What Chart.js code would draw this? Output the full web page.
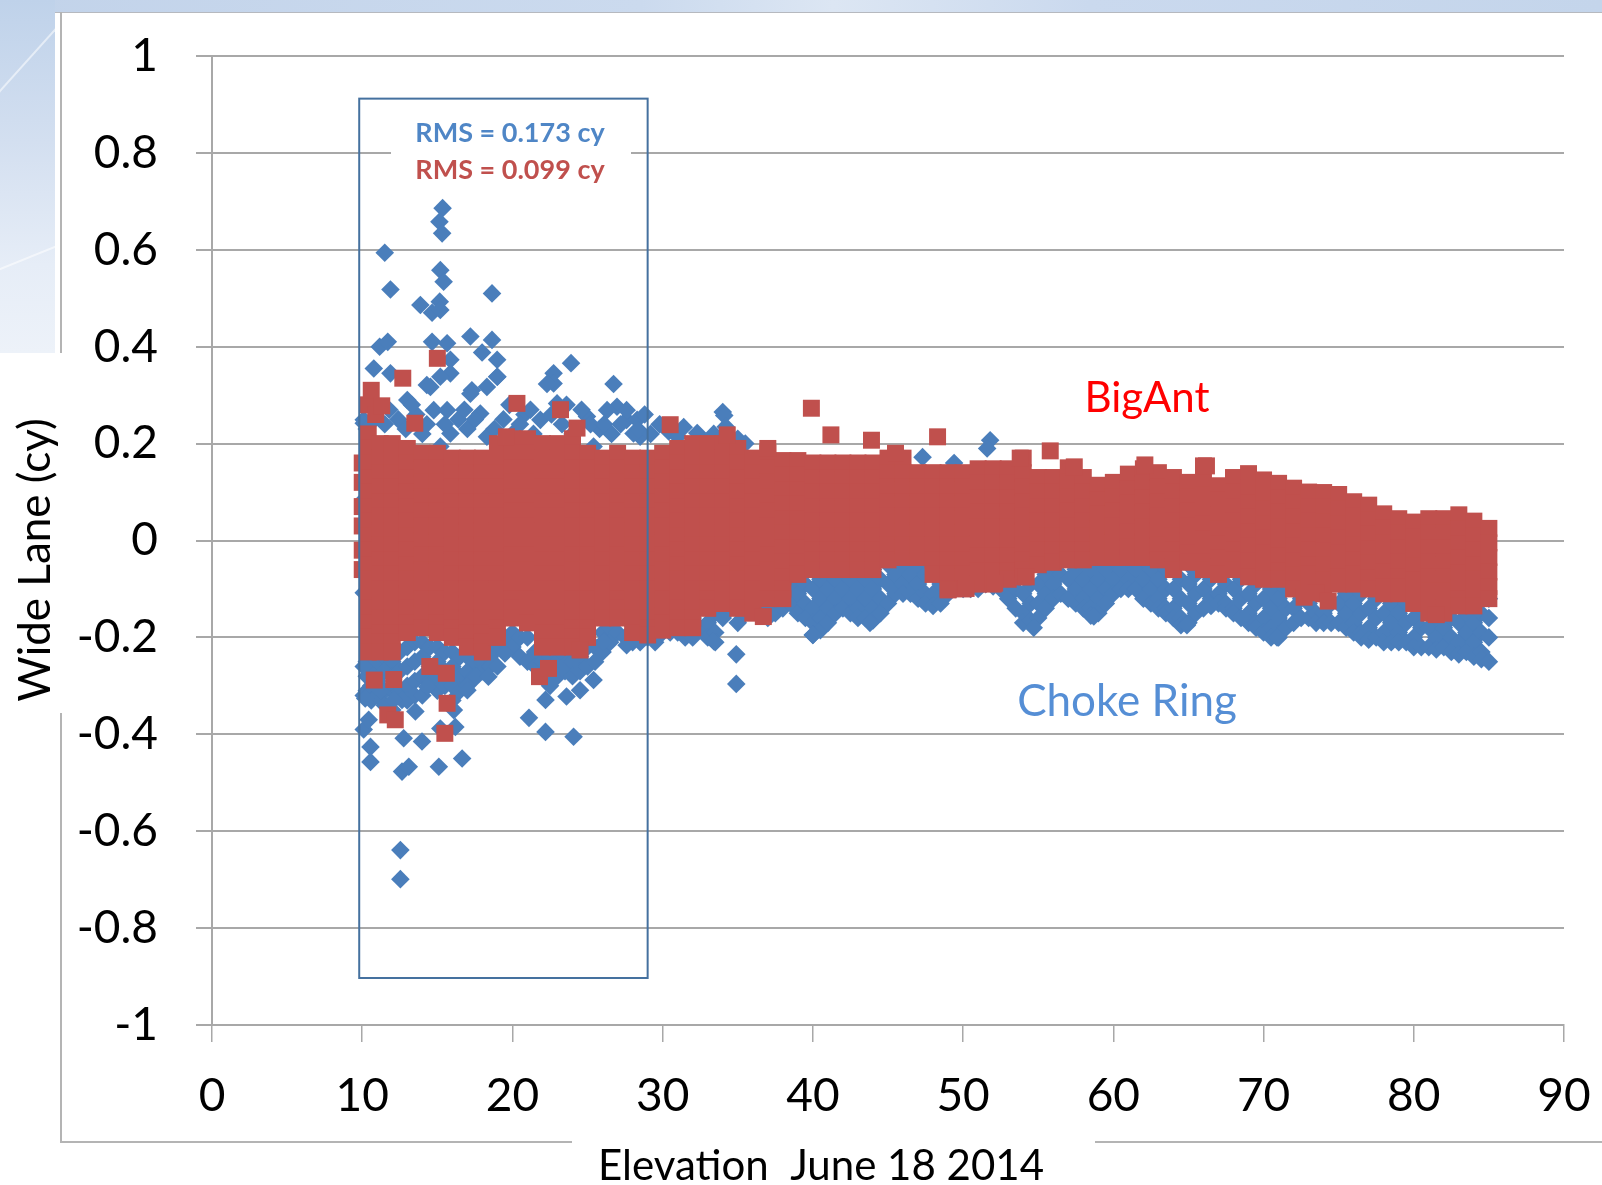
<!DOCTYPE html>
<html>
<head>
<meta charset="utf-8">
<title>Wide Lane vs Elevation</title>
<script src="https://cdn.jsdelivr.net/npm/chart.js"></script>
<style>
  html, body { margin: 0; padding: 0; background: #fff; }
  body { width: 1602px; height: 1185px; position: relative; overflow: hidden; }
  #topStrip { position: absolute; left: 0; top: 0; width: 1602px; height: 12px;
    background: linear-gradient(90deg, #c2d3ea 0%, #cbdaee 40%, #dce6f3 52%, #cad9ee 68%, #c4d5eb 100%);
    border-bottom: 1px solid #b6b9bf; }
  #corner { position: absolute; left: 0; top: 0; width: 55px; height: 353px; overflow: hidden;
    background: linear-gradient(180deg, #bfd2ea 0%, #d3dff0 40%, #e6edf7 75%, #edf2f9 100%); }
  .streak { position: absolute; height: 2px; background: rgba(255,255,255,0.55); transform-origin: 0 0; }
  .frame { position: absolute; background: #b4b4b4; }
  #chart { position: absolute; left: 0; top: 0; }
</style>
</head>
<body>
<div id="topStrip"></div>
<div id="corner">
  <div class="streak" style="left:-5px; top:95px; width:90px; transform: rotate(-48deg);"></div>
  <div class="streak" style="left:-5px; top:270px; width:90px; transform: rotate(-22deg);"></div>
</div>
<div class="frame" style="left:60px; top:12px; width:2px; height:341px;"></div>
<div class="frame" style="left:60px; top:713px; width:2px; height:430px;"></div>
<div class="frame" style="left:60px; top:1141px; width:512px; height:2px;"></div>
<div class="frame" style="left:1095px; top:1141px; width:507px; height:2px;"></div>
<canvas id="chart" width="1602" height="1185"></canvas>

<script>
// axis ticks
const xTicks = [0, 10, 20, 30, 40, 50, 60, 70, 80, 90];
const yTicks = [-1, -0.8, -0.6, -0.4, -0.2, 0, 0.2, 0.4, 0.6, 0.8, 1];

// RMS outline box (elevation deg, wide lane cy)
const rmsBoxX = [9.8, 29];
const rmsBoxY = [0.912, -0.903];

// values, y in hundredths of a cycle
// columns: [elevation, y, y, ...]
const bigAntColumns = [
  [10, 16, 12, 7, 3, -2, -6],
  [10.4, 22, 19, 16, 13, 10, 7, 4, 1, -2, -5, -8, -11, -14, -17, -20, -23],
  [11.2, 20, 17, 14, 11, 8, 5, 2, -1, -4, -7, -10, -13, -16, -19, -21, -23],
  [12, 20, 17, 14, 11, 8, 5, 2, -1, -4, -7, -10, -13, -16, -19, -21, -23],
  [13, 19, 16, 13, 10, 7, 4, 1, -2, -5, -8, -11, -14, -17, -19],
  [14, 18, 15, 12, 9, 6, 3, 0, -3, -6, -9, -12, -15, -18],
  [15, 18, 15, 12, 9, 6, 3, 0, -3, -6, -9, -12, -15, -17, -19],
  [16, 17, 14, 11, 8, 5, 2, -1, -4, -7, -10, -13, -16, -18, -20],
  [17, 17, 14, 11, 8, 5, 2, -1, -4, -7, -10, -13, -16, -19, -22],
  [18, 17, 14, 11, 8, 5, 2, -1, -4, -7, -10, -13, -16, -19, -21, -23],
  [19, 20, 17, 14, 11, 8, 5, 2, -1, -4, -7, -10, -13, -16, -18, -20],
  [20, 21, 18, 15, 12, 9, 6, 3, 0, -3, -6, -9, -12, -14, -16],
  [21, 21, 18, 15, 12, 9, 6, 3, 0, -3, -6, -9, -12, -15, -17],
  [22, 20, 17, 14, 11, 8, 5, 2, -1, -4, -7, -10, -13, -16, -19, -22],
  [23, 20, 17, 14, 11, 8, 5, 2, -1, -4, -7, -10, -13, -16, -19, -22],
  [24, 21, 18, 15, 12, 9, 6, 3, 0, -3, -6, -9, -12, -15, -18, -20, -22],
  [25, 18, 15, 12, 9, 6, 3, 0, -3, -6, -9, -12, -15, -18, -20],
  [26, 17, 14, 11, 8, 5, 2, -1, -4, -7, -10, -13, -16],
  [27, 18, 15, 12, 9, 6, 3, 0, -3, -6, -9, -12, -14, -16],
  [28, 17, 14, 11, 8, 5, 2, -1, -4, -7, -10, -13, -16, -19],
  [29, 17, 14, 11, 8, 5, 2, -1, -4, -7, -10, -13, -16, -18, -19.5],
  [30, 18, 15, 12, 9, 6, 3, 0, -3, -6, -9, -12, -15, -17, -18.5],
  [31, 19, 16, 13, 10, 7, 4, 1, -2, -5, -8, -11, -14, -16, -18],
  [32, 20, 17, 14, 11, 8, 5, 2, -1, -4, -7, -10, -13, -16, -18],
  [33, 20, 17, 14, 11, 8, 5, 2, -1, -4, -7, -10, -12, -14],
  [34, 20, 17, 14, 11, 8, 5, 2, -1, -4, -7, -10, -13],
  [35, 19, 16, 13, 10, 7, 4, 1, -2, -5, -8, -11, -14],
  [36, 17, 14, 11, 8, 5, 2, -1, -4, -7, -10, -13, -15],
  [37, 18, 15, 12, 9, 6, 3, 0, -3, -6, -9, -12],
  [38, 16.5, 13.5, 10.5, 7.5, 4.5, 1.5, -1.5, -4.5, -7.5, -10, -12],
  [39, 16.5, 13.5, 10.5, 7.5, 4.5, 1.5, -1.5, -4.5, -7],
  [40, 16, 13, 10, 7, 4, 1, -2, -4, -6],
  [41, 16, 13, 10, 7, 4, 1, -2, -4, -6],
  [42, 16, 13, 10, 7, 4, 1, -2, -4, -6],
  [43, 16, 13, 10, 7, 4, 1, -2, -4, -6],
  [44, 16, 13, 10, 7, 4, 1, -2, -4, -6],
  [45, 17, 14, 11, 8, 5, 2, -1, -4],
  [46, 17, 14, 11, 8, 5, 2, -1, -3.5],
  [47, 14, 11, 8, 5, 2, -1, -3.5],
  [48, 14, 11, 8, 5, 2, -1, -4, -7],
  [49, 14, 11, 8, 5, 2, -1, -4, -7, -10],
  [50, 14, 11, 8, 5, 2, -1, -4, -7, -10],
  [51, 14.8, 11.8, 8.8, 5.8, 2.8, -0.2, -3.2, -6.2, -9],
  [52, 14.8, 11.8, 8.8, 5.8, 2.8, -0.2, -3.2, -6.2, -9],
  [53, 14.8, 11.8, 8.8, 5.8, 2.8, -0.2, -3.2, -6.2, -8],
  [54, 17, 14, 11, 8, 5, 2, -1, -4, -6, -7.5],
  [55, 13, 10, 7, 4, 1, -2, -5],
  [56, 13, 10, 7, 4, 1, -2, -4.5],
  [57, 15, 12, 9, 6, 3, 0, -2, -4],
  [58, 13, 10, 7, 4, 1, -2, -4],
  [59, 11.4, 8.4, 5.4, 2.4, -0.6, -3.5],
  [60, 12, 9, 6, 3, 0, -3.5],
  [61, 13.7, 10.7, 7.7, 4.7, 1.7, -1.3, -3.5],
  [62, 14.8, 11.8, 8.8, 5.8, 2.8, -0.2, -3.5],
  [63, 14, 11, 8, 5, 2, -1, -4],
  [64, 13, 10, 7, 4, 1, -2, -4, -6],
  [65, 12, 9, 6, 3, 0, -2.5, -4.5],
  [66, 15.4, 12.4, 9.4, 6.4, 3.4, 0.4, -2.6, -4.5, -6],
  [67, 11.3, 8.3, 5.3, 2.3, -0.7, -3.7, -5.5, -7],
  [68, 13, 10, 7, 4, 1, -2, -4, -6],
  [69, 13.8, 10.8, 7.8, 4.8, 1.8, -1.2, -4.2, -7.5],
  [70, 12.5, 9.5, 6.5, 3.5, 0.5, -2.5, -5.5, -8],
  [71, 11.8, 8.8, 5.8, 2.8, -0.2, -3.2, -6.2, -8],
  [72, 10.8, 7.8, 4.8, 1.8, -1.2, -4.2, -7.2, -10],
  [73, 10, 7, 4, 1, -2, -5, -7, -9],
  [74, 9.9, 6.9, 3.9, 0.9, -2.1, -5.1, -8.1, -11],
  [75, 9.5, 6.5, 3.5, 0.5, -2.5, -5.5, -7.5, -9],
  [76, 8, 5, 2, -1, -4, -7, -9],
  [77, 7.3, 4.3, 1.3, -1.7, -4.7, -7.7, -10],
  [78, 5.5, 2.5, -0.5, -3.5, -6.5, -9.5, -11],
  [79, 4.5, 1.5, -1.5, -4.5, -7.5, -9.5, -11],
  [80, 3.8, 0.8, -2.2, -5.2, -8.2, -11, -13],
  [81, 4.5, 1.5, -1.5, -4.5, -7.5, -10.5, -13, -15],
  [82, 4.5, 1.5, -1.5, -4.5, -7.5, -10.5, -13, -15],
  [83, 5.3, 2.3, -0.7, -3.7, -6.7, -9.7, -12, -13.5],
  [84, 4, 1, -2, -5, -8, -11, -13.5],
  [85, 2.5, -0.5, -3.5, -6.5, -9.5, -12]
];

// single squares away from the band: [elevation, y]
const bigAntOutliers = [
  [10.4, 28], [10.6, 31], [10.9, 26], [11.3, 27.8], [12.7, 33.5], [13.5, 24.2], [15, 37.6],
  [19.6, 21.4], [20.3, 28.3], [23.2, 27], [24.3, 23.2], [30.5, 23.9], [34.3, 21.8],
  [37, 19], [39.9, 27.3], [41.2, 21.8], [43.9, 20.7], [45.5, 18], [48.3, 21.4],
  [53.8, 17], [55.8, 18.5], [57.4, 15.2], [62.1, 15.6], [66.2, 15.4],
  [10.8, -28.8], [12.1, -28.7], [11.7, -36], [12.2, -37], [14.5, -26], [15.6, -27.4],
  [15.65, -33.6], [15.5, -39.8], [21.8, -28.1], [22.4, -26.4], [24.5, -22.6],
  [36.7, -15.7], [49, -10.2], [50.2, -9.9], [52.1, -8.8], [54.2, -7.5],
  [72.7, -11.7], [73.5, -10.8], [74.3, -12.5], [81.5, -15.3]
];

const chokeRingColumns = [
  [10.1, 24.9, 16.6, 8.4, -2.6, -6.7, -10.8, -32, -39],
  [10.3, -25, -28, -31], [10.6, -24, -27, -30, -33], [11, -25, -29, -32],
  [11.5, -24, -27, -31, -34], [12, -25, -28, -31, -35], [12.5, -23, -27, -31],
  [13, -22, -26, -30, -33], [13.5, -21, -25, -29, -32], [14, -21, -24, -28, -32],
  [14.5, -22, -26, -29], [15, -22, -25, -28, -31], [15.5, -23, -27, -30],
  [16, -23, -26, -30, -33], [16.5, -24, -28, -31], [17, -24, -27, -30],
  [17.5, -25, -28], [18, -25, -27], [18.5, -24, -26], [19, -22, -26], [19.5, -20, -23],
  [20, -19, -22], [20.5, -20, -24], [21, -20, -25], [21.5, -23, -26], [22, -25, -28],
  [22.5, -24, -30], [23, -25, -28], [23.5, -24, -27], [24, -25, -28], [24.5, -24, -27],
  [25, -22, -26], [25.5, -22, -25], [26, -19, -23], [26.5, -18, -21], [27, -19],
  [27.5, -20], [28, -21], [28.5, -21], [29, -20], [29.5, -21],
  [30, -17, -19], [30.5, -19], [31, -17, -19], [31.5, -20], [32, -16, -20], [32.5, -18],
  [33, -13, -17, -20], [33.5, -15, -19, -21], [34, -12, -16], [34.5, -14],
  [35, -13, -17], [35.5, -15], [36, -12], [36.5, -14], [37, -10, -14, -16],
  [37.5, -12, -15], [38, -10, -14], [38.5, -9, -13], [39, -7, -11, -15],
  [39.5, -9, -13, -16], [40, -6, -10, -14, -17, -19.5], [40.5, -8, -12, -16, -18.5],
  [41, -6, -10, -14, -17], [41.5, -8, -12, -15], [42, -6, -10, -14], [42.5, -8, -12, -15],
  [43, -6, -10, -14, -16], [43.5, -8, -12, -16], [44, -6, -10, -14, -16.5],
  [44.5, -8, -12, -15], [45, -5, -9, -13], [45.5, -7, -11], [46, -5, -9, -11],
  [46.5, -7, -11], [47, -5, -9, -12], [47.5, -7, -11, -13], [48, -7, -11, -13.5],
  [48.5, -9, -13], [49, -9, -11], [49.5, -10], [50, -10], [50.5, -10], [51, -10],
  [51.5, -9], [52, -9.5], [52.5, -10], [53, -8, -12], [53.5, -10, -14],
  [54, -7, -11, -15, -17], [54.5, -9, -13, -16.5], [55, -5, -9, -13, -16],
  [55.5, -7, -11, -14], [56, -5, -9, -12], [56.5, -7, -11], [57, -4, -8, -12],
  [57.5, -6, -10, -13], [58, -4, -8, -12, -14], [58.5, -6, -10, -14, -15.5],
  [59, -4, -8, -12, -15], [59.5, -6, -10, -13], [60, -4, -8, -11], [60.5, -6, -10],
  [61, -4, -8, -10], [61.5, -6, -10], [62, -4, -8, -12], [62.5, -6, -10, -13],
  [63, -4, -8, -12, -14], [63.5, -6, -10, -14, -15], [64, -6, -10, -14, -16],
  [64.5, -8, -12, -16, -17.5], [65, -5, -9, -13, -17], [65.5, -7, -11, -15],
  [66, -6, -10, -14], [66.5, -8, -12, -13.5], [67, -7, -11, -13], [67.5, -9, -13, -14],
  [68, -6, -10, -14, -15], [68.5, -8, -12, -16], [69, -7, -11, -15, -17],
  [69.5, -9, -13, -17, -18], [70, -8, -12, -16, -19], [70.5, -10, -14, -18, -20],
  [71, -8, -12, -16, -20], [71.5, -10, -14, -18], [72, -10, -14, -17], [72.5, -12, -16],
  [73, -9, -13, -16], [73.5, -11, -15, -17], [74, -11, -15, -17], [74.5, -13, -17],
  [75, -9, -13, -17], [75.5, -11, -15, -18], [76, -9, -13, -17, -19],
  [76.5, -11, -15, -19, -20], [77, -10, -14, -18, -20.5], [77.5, -12, -16, -20],
  [78, -11, -15, -19, -21], [78.5, -13, -17, -21], [79, -11, -15, -19, -21],
  [79.5, -13, -17, -21], [80, -12, -16, -20, -22], [80.5, -14, -18, -22],
  [81, -14, -18, -22], [81.5, -16, -20, -22.5], [82, -14, -18, -22],
  [82.5, -16, -20, -23], [83, -13, -17, -21, -23.5], [83.5, -15, -19, -23],
  [84, -13, -17, -21, -24], [84.5, -15, -19, -23, -24.5], [85, -12, -16, -20, -25]
];

const chokeRingOutliers = [
  // above the band
  [15.35, 68.6], [15.14, 65.8], [15.32, 63.4], [11.5, 59.4], [15.2, 55.8], [15.42, 53.4],
  [11.88, 51.8], [18.64, 51], [13.87, 48.6], [15.16, 49.3], [14.65, 47], [15.2, 47.6],
  [17.2, 42.1], [18.64, 41.4], [14.65, 41], [15.65, 40.7], [11.16, 40], [11.7, 41],
  [17.98, 38.8], [18.98, 37.3], [10.77, 35.5], [15.87, 37.3], [22.74, 34.5], [23.9, 36.6],
  [18.98, 33.8], [15.87, 34.5], [11.88, 34.5], [26.73, 32.3], [22.74, 32.4], [14.3, 32.1],
  [17.3, 31], [14.54, 31.7], [15.2, 33.8], [17.2, 30.3], [18.3, 31.7], [19, 33.8],
  [26.96, 27.6], [27.6, 24.9], [28.5, 21.4], [10.1, 24.2], [11, 26.9], [13, 29],
  [14.76, 26.9], [15.65, 26.9], [15.87, 22.1], [15.2, 19.4], [17.86, 26.2], [18.3, 21.4],
  [21.86, 24.9], [22.3, 32.3], [22.97, 28.3], [24.96, 25.6], [25.4, 19.4], [26.3, 26.9],
  [28.06, 22.1], [10.3, 23], [11.5, 24], [12.4, 25], [13.6, 26], [14, 22], [16.4, 25],
  [17, 23], [19.4, 25], [20, 22], [20.8, 26], [21.4, 22], [23.3, 24], [24, 22],
  [25.8, 23], [26.6, 22], [27.6, 26.9], [28.3, 24.9], [28.4, 22.8], [29.2, 22],
  [10.8, 25], [11.8, 27], [12.9, 23], [13.3, 28], [14.3, 24], [15.5, 24], [16.8, 27],
  [17.5, 25], [18.8, 23], [19.8, 28], [20.5, 24], [21.2, 27], [22.6, 26], [23.6, 28],
  [24.6, 27], [25.2, 24], [26.1, 24], [27.2, 24], [28.8, 26],
  [29.8, 24], [30.4, 22.5], [31, 21.4], [31.4, 23.4], [32.3, 22.2], [32.8, 20.5],
  [33.4, 22], [34, 26.5], [34.1, 25.8], [34.2, 23.5], [35, 21], [35.5, 20],
  [47.3, 17.2], [49.4, 16], [51.8, 20.7], [51.6, 19],
  // below the band
  [12.54, -63.9], [12.54, -69.9], [10.55, -42.6], [10.55, -45.7], [12.65, -47.7],
  [13.1, -46.7], [15.1, -46.7], [16.65, -45], [12.76, -40.8], [13.98, -41.5],
  [10.43, -37], [10.2, -32.6], [12.65, -32.9], [13.54, -35.3], [15.2, -38.8],
  [16.2, -38.5], [16.1, -35], [14.32, -30.2], [17, -30.9], [17.6, -28.1], [18.4, -28.1],
  [19.5, -23.3], [21.1, -36.6], [22.2, -32.9], [22.2, -39.5], [24.07, -40.5],
  [23.6, -32.2], [24.5, -30.9], [25.4, -28.8], [26.07, -20.9], [27.6, -21.6],
  [23.2, -22.7], [10.1, -26], [12.1, -32.9], [11.2, -31],
  [33.4, -20.8], [34.9, -23.5], [34.9, -29.6], [40, -19.5], [43.8, -17], [54.7, -18],
  [58.7, -15.7], [64.9, -17.5], [70.9, -20]
];

function toPoints(columns, outliers) {
  const pts = [];
  columns.forEach(col => {
    col.slice(1).forEach(v => pts.push({ x: col[0], y: v / 100 }));
  });
  outliers.forEach(p => pts.push({ x: p[0], y: p[1] / 100 }));
  return pts;
}

const gridGray = '#a8a8a8';
const tickFont = { family: 'Lato, "Open Sans", sans-serif', size: 46, lineHeight: 1.2 };

// outline box, RMS note, axis titles and series names
const notesPlugin = {
  id: 'notes',
  afterDraw(chart) {
    const { ctx, scales: { x, y } } = chart;
    const l = x.getPixelForValue(rmsBoxX[0]), r = x.getPixelForValue(rmsBoxX[1]);
    const t = y.getPixelForValue(rmsBoxY[0]), b = y.getPixelForValue(rmsBoxY[1]);
    ctx.save();
    ctx.strokeStyle = '#45719f';
    ctx.lineWidth = 2;
    ctx.strokeRect(l, t, r - l, b - t);

    ctx.fillStyle = '#ffffff';
    ctx.fillRect(391, 112, 240, 78);
    ctx.textAlign = 'center';
    ctx.textBaseline = 'alphabetic';
    ctx.font = 'bold 27px Lato, "Open Sans", sans-serif';
    ctx.fillStyle = '#4f86c6';
    ctx.fillText('RMS = 0.173 cy', 510, 142);
    ctx.fillStyle = '#c0504d';
    ctx.fillText('RMS = 0.099 cy', 510, 179);

    ctx.font = '42px Lato, "Open Sans", sans-serif';
    ctx.fillStyle = '#ff0000';
    ctx.fillText('BigAnt', 1147, 412);
    ctx.font = '44px Lato, "Open Sans", sans-serif';
    ctx.fillStyle = '#558ed5';
    ctx.fillText('Choke Ring', 1127, 716);

    ctx.fillStyle = '#000000';
    ctx.font = '42px Lato, "Open Sans", sans-serif';
    ctx.fillText('Elevation  June 18 2014', 821, 1180);

    ctx.translate(50, 560);
    ctx.rotate(-Math.PI / 2);
    ctx.font = '44px Lato, "Open Sans", sans-serif';
    ctx.fillText('Wide Lane (cy)', 0, 0);
    ctx.restore();
  }
};

new Chart(document.getElementById('chart'), {
  type: 'scatter',
  data: {
    datasets: [
      {
        label: 'BigAnt',
        data: toPoints(bigAntColumns, bigAntOutliers),
        pointStyle: 'rect',
        pointRadius: 12,
        backgroundColor: '#c0504d',
        borderWidth: 0,
        order: 1
      },
      {
        label: 'Choke Ring',
        data: toPoints(chokeRingColumns, chokeRingOutliers),
        pointStyle: 'rectRot',
        pointRadius: 9.3,
        backgroundColor: '#4a7ebb',
        borderWidth: 0,
        order: 2
      }
    ]
  },
  options: {
    responsive: false,
    animation: false,
    devicePixelRatio: 1,
    layout: { padding: { left: 0, top: 56, right: 38, bottom: 0 } },
    plugins: { legend: { display: false }, tooltip: { enabled: false } },
    scales: {
      x: {
        type: 'linear',
        min: xTicks[0],
        max: xTicks[xTicks.length - 1],
        afterBuildTicks: s => { s.ticks = xTicks.map(v => ({ value: v })); },
        afterFit: s => { s.height = 160; s.paddingLeft = 0; s.paddingRight = 0; },
        grid: { drawOnChartArea: false, drawTicks: true, tickLength: 17, color: gridGray, lineWidth: 1.5 },
        border: { color: gridGray, width: 2 },
        ticks: { color: '#000', font: tickFont, padding: 27, maxRotation: 0 }
      },
      y: {
        type: 'linear',
        min: yTicks[0],
        max: yTicks[yTicks.length - 1],
        afterBuildTicks: s => { s.ticks = yTicks.map(v => ({ value: v })); },
        afterFit: s => { s.width = 212; s.paddingTop = 0; s.paddingBottom = 0; },
        grid: { color: gridGray, lineWidth: 2, tickLength: 16 },
        border: { color: gridGray, width: 2 },
        ticks: {
          color: '#000',
          font: tickFont,
          padding: 38,
          callback: v => String(Math.round(v * 10) / 10)
        }
      }
    }
  },
  plugins: [notesPlugin]
});
</script>
</body>
</html>
